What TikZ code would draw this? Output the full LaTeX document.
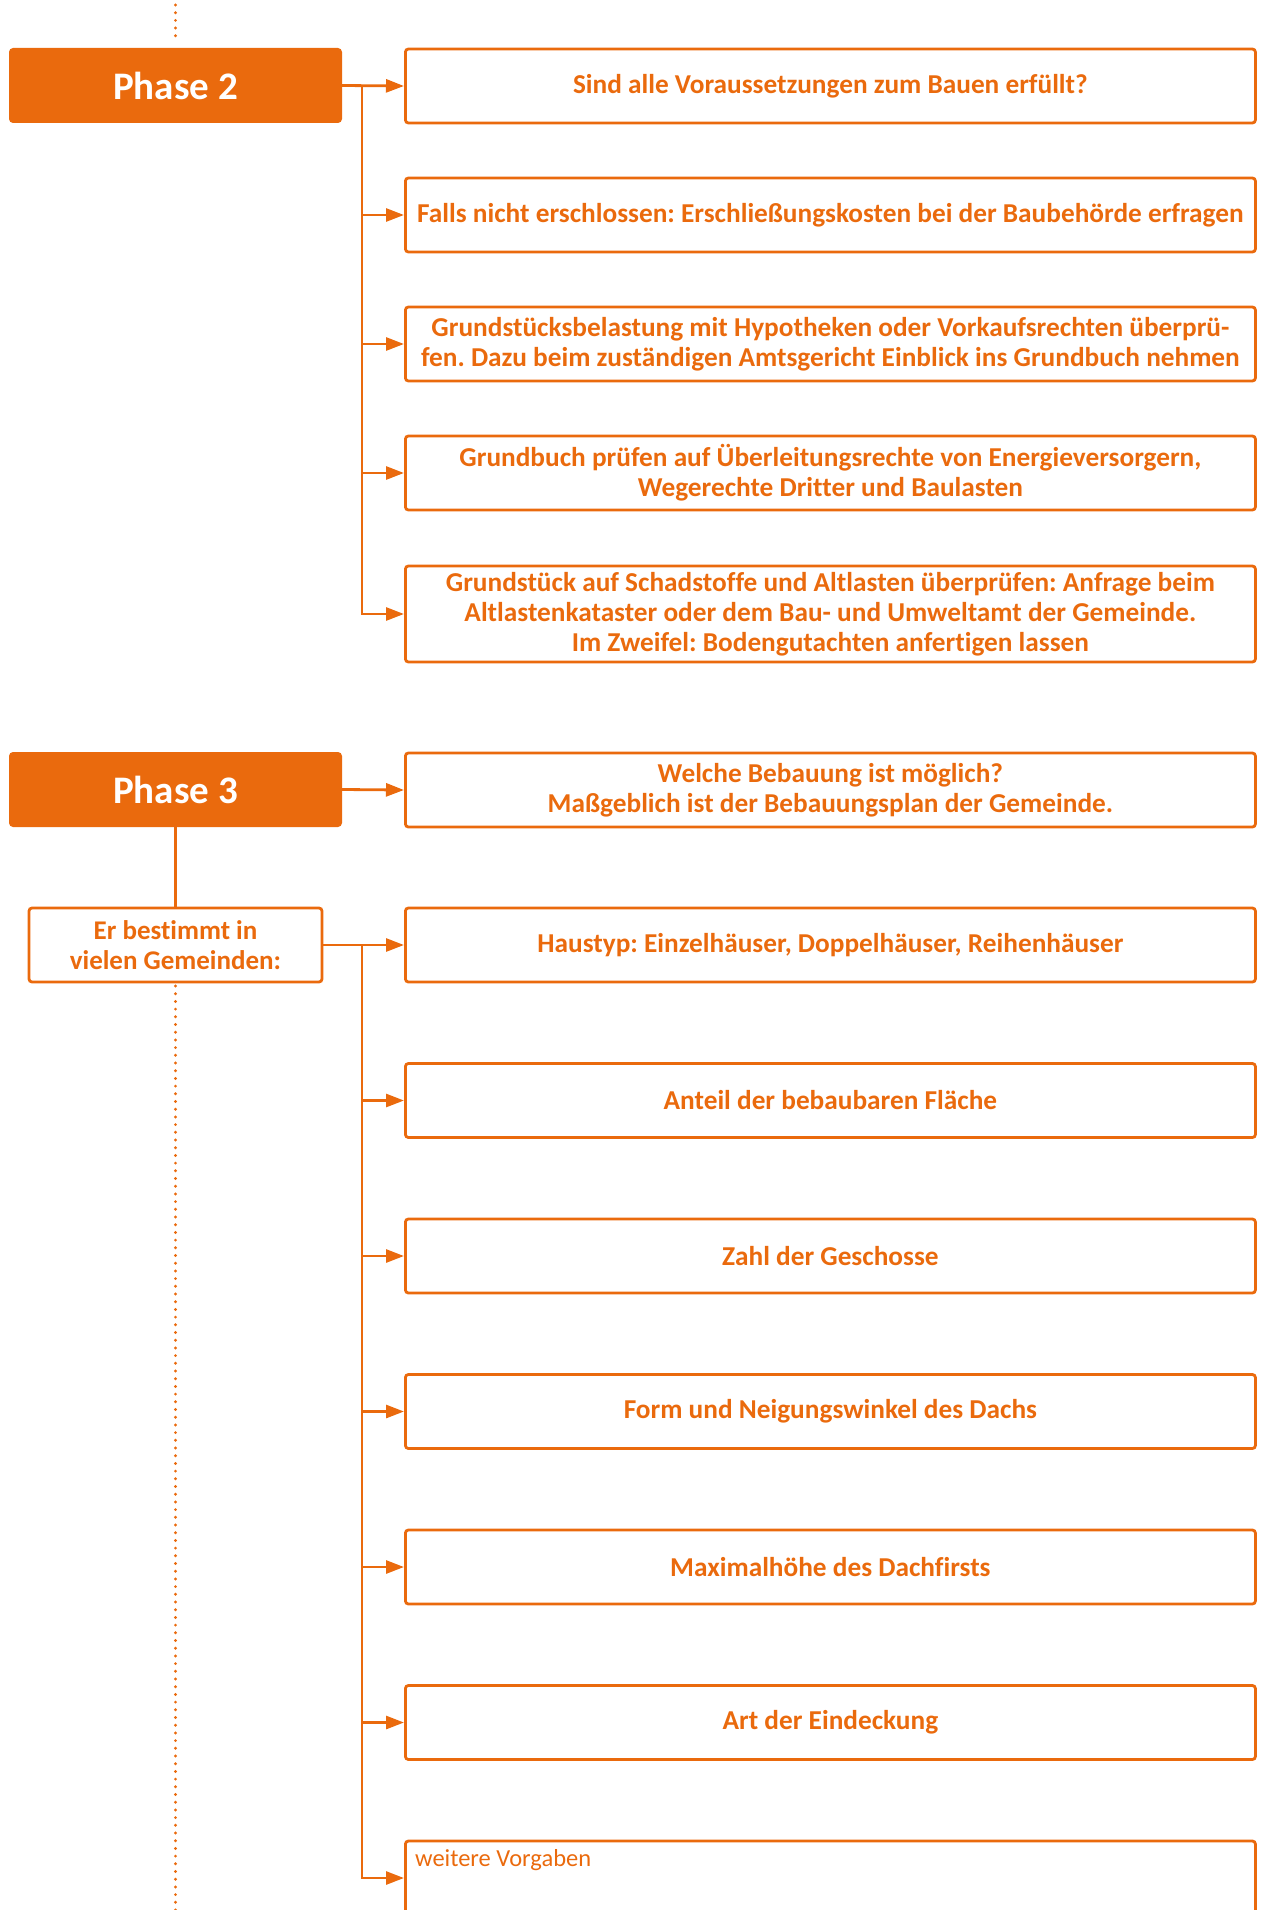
\documentclass[tikz,border=0pt]{standalone}
\usepackage{fontspec}
\setmainfont{Carlito}[Ligatures=NoCommon]
\usetikzlibrary{arrows.meta}
\definecolor{OR}{RGB}{234,106,13}
\frenchspacing
\begin{document}
\begin{tikzpicture}[x=1pt,y=-1pt,
  line/.style={draw=OR,line width=2.8pt},
  arr/.style={line,-{Triangle[length=18pt,width=13pt]}},
  dots/.style={draw=OR,line width=3.2pt,line cap=round,dash pattern=on 0pt off 7.7pt},
  box/.style={draw=OR,line width=2.8pt,rounded corners=3pt,minimum width=850pt,
    align=center,inner sep=0pt,text=OR,anchor=west,
    font=\bfseries\fontsize{27.3}{30}\selectfont},
  phase/.style={fill=OR,rounded corners=4pt,minimum width=333pt,minimum height=75pt,
    text=white,inner sep=0pt,font=\bfseries\fontsize{39}{42}\selectfont},
  smallbox/.style={draw=OR,line width=2.8pt,rounded corners=3pt,minimum width=293pt,
    minimum height=74pt,align=center,inner sep=0pt,text=OR,
    font=\bfseries\fontsize{27}{30}\selectfont}]
\useasboundingbox (0,0) rectangle (1260,1910);
\clip (0,0) rectangle (1260,1910);

% Phase 2
\coordinate (d1a) at (175.5,5);
\coordinate (d1b) at (175.5,43);
\draw[dots] (d1a) -- (d1b);
\node[phase] (p2) at (175.5,85.5) {Phase 2};
\node[box,minimum height=74pt] (b1) at (404,86) {Sind alle Voraussetzungen zum Bauen erfüllt?};
\node[box,minimum height=74pt] (b2) at (404,215) {Falls nicht erschlossen: Erschließungskosten bei der Baubehörde erfragen};
\node[box,minimum height=74pt] (b3) at (404,344) {Grundstücksbelastung mit Hypotheken oder Vorkaufsrechten überprü-\\fen. Dazu beim zuständigen Amtsgericht Einblick ins Grundbuch nehmen};
\node[box,minimum height=74pt] (b4) at (404,473) {Grundbuch prüfen auf Überleitungsrechte von Energieversorgern,\\Wegerechte Dritter und Baulasten};
\node[box,minimum height=96pt] (b5) at (404,614) {Grundstück auf Schadstoffe und Altlasten überprüfen: Anfrage beim\\Altlastenkataster oder dem Bau- und Umweltamt der Gemeinde.\\Im Zweifel: Bodengutachten anfertigen lassen};
\coordinate (j2) at (362,86);
\draw[arr] (p2.east) -- (b1.west);
\foreach \b in {b2,b3,b4,b5} \draw[arr] (j2) |- (\b.west);

% Phase 3
\node[phase] (p3) at (175.5,789.5) {Phase 3};
\node[box,minimum height=74pt] (w) at (404,790) {Welche Bebauung ist möglich?\\Maßgeblich ist der Bebauungsplan der Gemeinde.};
\draw[arr] (p3.east) -- (w.west);
\node[smallbox] (er) at (175.5,945) {Er bestimmt in\\vielen Gemeinden:};
\draw[line] (p3.south) -- (er.north);
\coordinate (d2a) at (175.5,986);
\coordinate (d2b) at (175.5,1912);
\draw[dots] (d2a) -- (d2b);

\node[box,minimum height=74pt] (h1) at (404,945) {Haustyp: Einzelhäuser, Doppelhäuser, Reihenhäuser};
\node[box,minimum height=74pt] (h2) at (404,1100.5) {Anteil der bebaubaren Fläche};
\node[box,minimum height=74pt] (h3) at (404,1256) {Zahl der Geschosse};
\node[box,minimum height=74pt] (h4) at (404,1411.5) {Form und Neigungswinkel des Dachs};
\node[box,minimum height=74pt] (h5) at (404,1567) {Maximalhöhe des Dachfirsts};
\node[box,minimum height=74pt] (h6) at (404,1722.5) {Art der Eindeckung};
\node[box,minimum height=74pt] (h7) at (404,1878) {};
\node[anchor=north west,inner sep=0pt,text=OR,font=\fontsize{24.5}{28}\selectfont] (h7t) at ([xshift=11pt,yshift=-10pt]h7.north west) {weitere Vorgaben};
\coordinate (j3) at (362,945);
\draw[arr] (er.east) -- (h1.west);
\foreach \b in {h2,h3,h4,h5,h6,h7} \draw[arr] (j3) |- (\b.west);
\end{tikzpicture}
\end{document}
